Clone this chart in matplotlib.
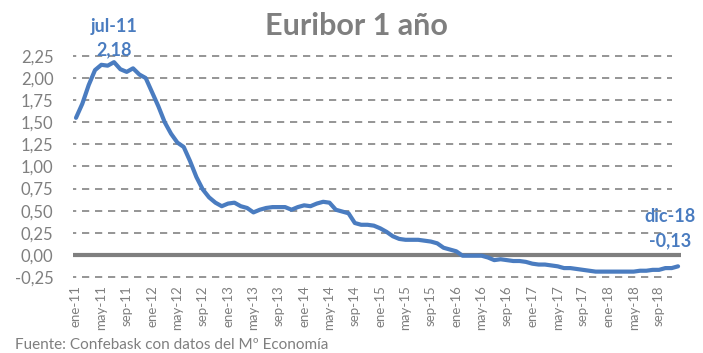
import matplotlib
matplotlib.use("Agg")
import matplotlib.pyplot as plt
from matplotlib.ticker import FuncFormatter, FixedLocator

# monthly Euribor 12M, ene-11 .. dic-18
meses = ["ene", "feb", "mar", "abr", "may", "jun", "jul", "ago", "sep", "oct", "nov", "dic"]
anios = ["11", "12", "13", "14", "15", "16", "17", "18"]
etiquetas = [m + "-" + a for a in anios for m in meses]

euribor = [
    1.55, 1.71, 1.92, 2.09, 2.15, 2.14, 2.18, 2.10, 2.07, 2.11, 2.04, 2.00,
    1.84, 1.68, 1.50, 1.37, 1.27, 1.22, 1.06, 0.88, 0.74, 0.65, 0.59, 0.55,
    0.58, 0.59, 0.55, 0.53, 0.48, 0.51, 0.53, 0.54, 0.54, 0.54, 0.51, 0.54,
    0.56, 0.55, 0.58, 0.60, 0.59, 0.51, 0.49, 0.47, 0.36, 0.34, 0.34, 0.33,
    0.30, 0.26, 0.21, 0.18, 0.17, 0.17, 0.17, 0.16, 0.15, 0.13, 0.08, 0.06,
    0.04, -0.01, -0.01, -0.01, -0.01, -0.03, -0.06, -0.05, -0.06, -0.07, -0.07, -0.08,
    -0.10, -0.11, -0.11, -0.12, -0.13, -0.15, -0.15, -0.16, -0.17, -0.18, -0.19, -0.19,
    -0.19, -0.19, -0.19, -0.19, -0.19, -0.18, -0.18, -0.17, -0.17, -0.15, -0.15, -0.13,
]
y_ticks = [-0.25, 0.0, 0.25, 0.5, 0.75, 1.0, 1.25, 1.5, 1.75, 2.0, 2.25]

azul = "#4A7CC0"
gris = "#7F7F7F"
plt.rcParams["font.family"] = ["Lato", "DejaVu Sans"]

fig = plt.figure(figsize=(7.03, 3.53), dpi=100)
ax = fig.add_axes([0.1036, 0.203, 0.8654, 0.651])

x = list(range(len(euribor)))
for v in y_ticks:
    if v == 0:
        ax.axhline(v, color=gris, lw=3, zorder=1)
    else:
        ax.axhline(v, color="#8C8C8C", lw=1.3, ls=(0, (4, 3.2)), zorder=0, xmin=-0.006, xmax=0.985)
ax.plot(x, euribor, color=azul, lw=3, solid_capstyle="round", solid_joinstyle="round", zorder=3)

ax.set_xlim(-0.5, len(euribor) - 0.5)
ax.set_ylim(-0.3, 2.3)
ax.yaxis.set_major_locator(FixedLocator(y_ticks))
ax.yaxis.set_major_formatter(FuncFormatter(lambda v, p: f"{v:.2f}".replace(".", ",")))
ax.set_xticks(x[::4])
ax.set_xticklabels(etiquetas[::4], rotation=90, fontsize=9.5, color=gris)
ax.tick_params(axis="y", labelsize=12, colors=gris, length=0, pad=14)
ax.tick_params(axis="x", length=0, pad=3)
for s in ax.spines.values():
    s.set_visible(False)

# data labels
i_max = etiquetas.index("jul-11")
i_fin = len(euribor) - 1
for i, dx, dy in [(i_max, 0, 36), (i_fin, -8, 50)]:
    val = f"{euribor[i]:.2f}".replace(".", ",")
    ax.annotate(etiquetas[i], (x[i], euribor[i]), xytext=(dx, dy), textcoords="offset pixels",
                ha="center", va="center", color=azul, fontsize=13, fontweight="bold")
    ax.annotate(val, (x[i], euribor[i]), xytext=(dx, dy - 24), textcoords="offset pixels",
                ha="center", va="center", color=azul, fontsize=13, fontweight="bold")

fig.text(0.507, 0.925, "Euribor 1 año", ha="center", va="center", fontsize=22,
         fontweight="bold", color=gris)
fig.text(0.021, 0.012, "Fuente: Confebask con datos del Mº Economía", ha="left", va="baseline",
         fontsize=11, color=gris)

fig.savefig("out.png", dpi=100)
